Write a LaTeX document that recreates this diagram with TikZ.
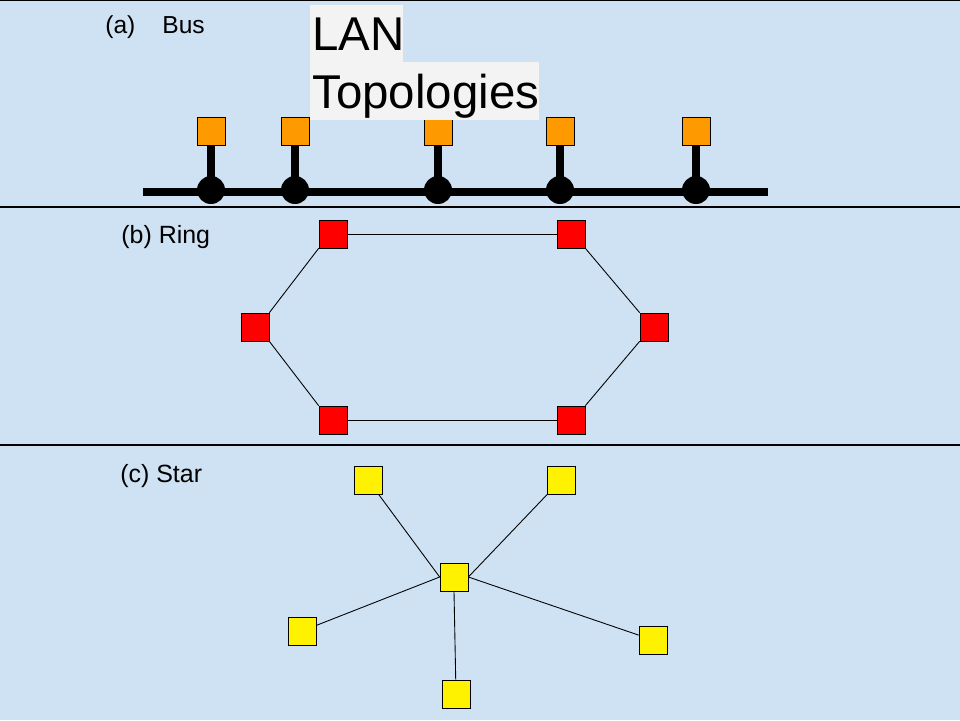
\documentclass[tikz,border=0pt]{standalone}
\usepackage{fontspec}
\setmainfont{Liberation Sans}
\usepackage{tikz}
\usetikzlibrary{calc}
\definecolor{bgblue}{HTML}{CFE2F3}
\definecolor{titlegray}{HTML}{F3F3F3}
\definecolor{busorange}{HTML}{FF9900}
\tikzset{>=stealth,
  pc/.style={draw=black, minimum size=0.56cm, inner sep=0pt},
  buspc/.style={pc, fill=busorange},
  ringpc/.style={pc, fill=red},
  starpc/.style={pc, fill=yellow},
  tap/.style={circle, fill=black, minimum size=0.56cm, inner sep=0pt},
  link/.style={line width=0.5pt},
  lbl/.style={anchor=base west, inner sep=0pt},
  titlebox/.style={fill=titlegray, anchor=north west, inner xsep=0.04cm, inner ysep=0pt,
    align=left, font=\fontsize{27}{30}\selectfont, text height=19.4pt, text depth=0pt}
}

\begin{document}
\begin{tikzpicture}[x=0.02cm,y=-0.02cm]
      \fill[bgblue] (0,0) rectangle (960,720);
      \useasboundingbox (0,0) rectangle (960,720);
      \draw[line width=0.6pt] (0,0.5)--(960,0.5);
      \draw[line width=0.6pt] (0,207)--(960,207);
      \draw[line width=0.6pt] (0,445)--(960,445);
      % (a) bus
      \node[lbl, font=\fontsize{14}{16}\selectfont] (labA) at (105,33) {(a)\hspace{0.54cm}Bus};
      \coordinate (busL) at (143,192);
      \coordinate (busR) at (768,192);
      \draw[line width=4.5pt] (busL)--(busR);
      \foreach \x [count=\i] in {211,295,438,560,696}{
        \node[buspc] (o\i) at (\x,131) {};
        \node[tap] (j\i) at (\x,190) {};
        \draw[line width=5.1pt] (o\i.south)--(j\i.center);
      }
      \node[titlebox, text width=1.78cm, minimum height=1.14cm] (lan) at (310,5) {LAN};
      \node[titlebox, text width=4.5cm, minimum height=1.16cm] (topo) at (310,62) {Topologies};
      % (b) ring
      \node[lbl, font=\fontsize{14.2}{17}\selectfont] (labB) at (121,243) {(b) Ring};
      \node[ringpc] (r1) at (333,234) {};
      \node[ringpc] (r2) at (571,234) {};
      \node[ringpc] (r3) at (654,327) {};
      \node[ringpc] (r4) at (571,420) {};
      \node[ringpc] (r5) at (333,420) {};
      \node[ringpc] (r6) at (255,327) {};
      \draw[link] (r1)--(r2);
      \draw[link] (r2.south east)--(r3.north west);
      \draw[link] (r3.south west)--(r4.north east);
      \draw[link] (r4)--(r5);
      \draw[link] (r5.north west)--(r6.south east);
      \draw[link] (r6.north east)--(r1.south west);
      % (c) star
      \node[lbl, font=\fontsize{14.2}{17}\selectfont] (labC) at (120,482) {(c) Star};
      \node[starpc] (hub) at (454,577) {};
      \node[starpc] (s1) at (368,480) {};
      \node[starpc] (s2) at (561,480) {};
      \node[starpc] (s3) at (302,631) {};
      \node[starpc] (s4) at (456,694) {};
      \node[starpc] (s5) at (653,640) {};
      \draw[link] (hub.west)--(s1);
      \draw[link] (hub.east)--(s2);
      \draw[link] (hub.west)--(s3);
      \draw[link] (hub.south)--(s4);
      \draw[link] (hub.east)--(s5);
      %\draw[link] (hub)--(s4);
\end{tikzpicture}
\end{document}
